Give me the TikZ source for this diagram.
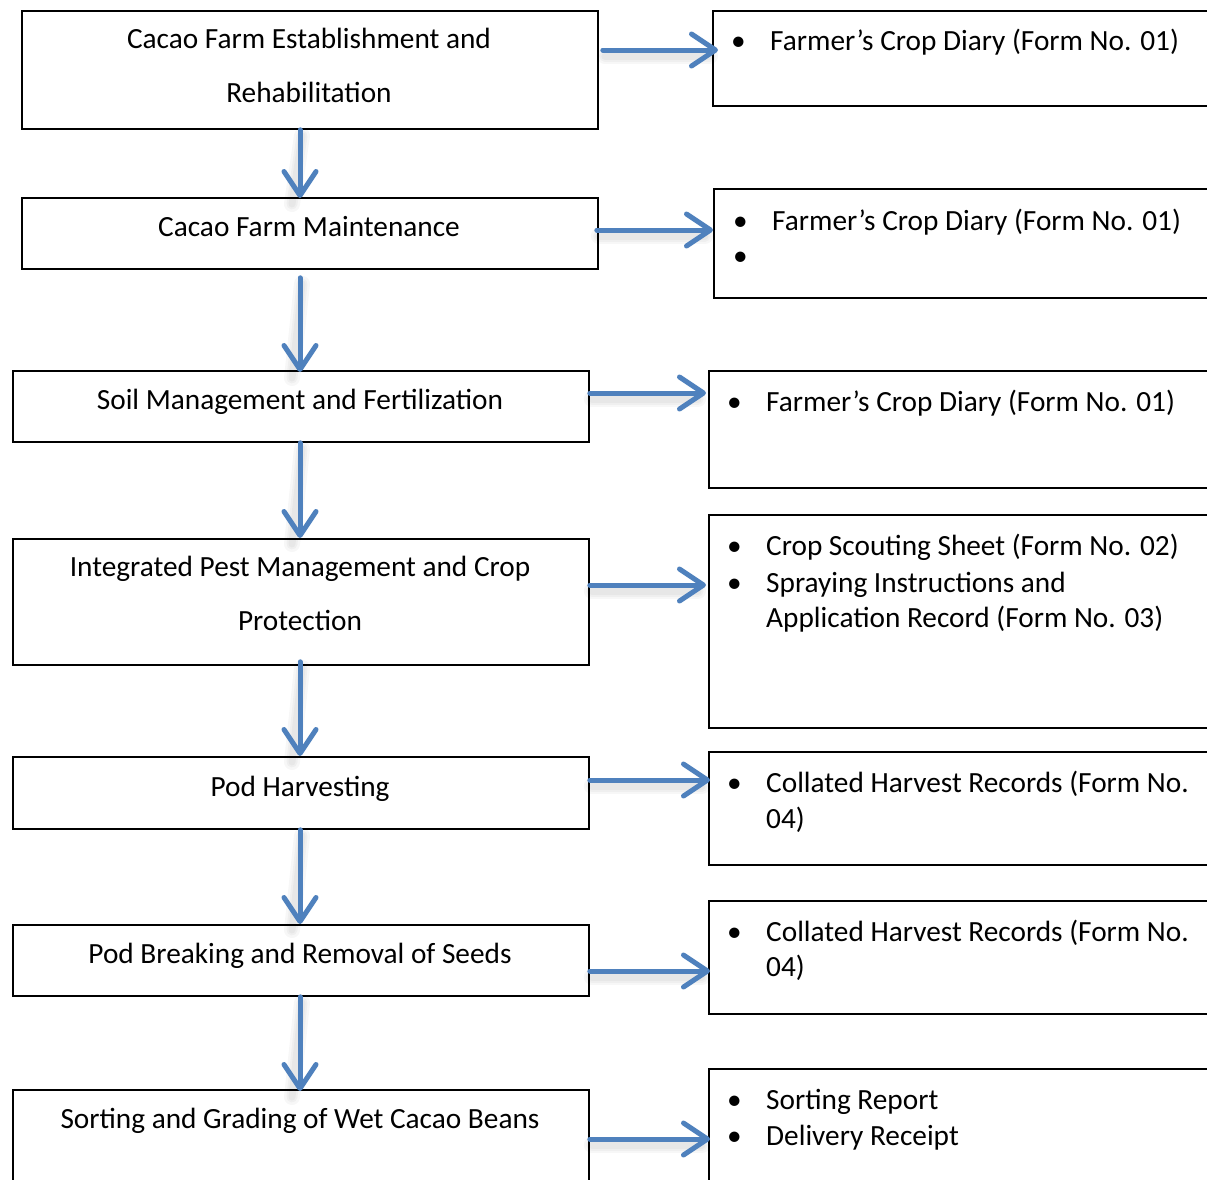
\documentclass[tikz,border=0pt]{standalone}
\usepackage{fontspec}
\setmainfont{Carlito}
\usetikzlibrary{arrows.meta,calc}
\definecolor{flowblue}{HTML}{4F81BD}
\tikzset{
  box/.style={draw=black, line width=1.8pt, inner sep=0pt, anchor=north west, minimum width=576pt},
  docbox/.style={draw=black, line width=1.8pt, inner sep=0pt, anchor=north west, minimum width=600pt},
  lbl/.style={inner sep=0pt, anchor=base, font=\fontsize{29.3}{34}\selectfont},
  itm/.style={inner sep=0pt, anchor=base west, font=\fontsize{29.3}{34}\selectfont},
  arr/.style={draw=flowblue, line width=5pt, line cap=round,
    -{Straight Barb[length=24pt, width=32pt, line cap=round, round]}},
  shade/.style={draw=black, opacity=0.03, line cap=round},
}
% soft drop shadow under each arrow, then the arrow itself
\newcommand{\flowarrow}[2]{%
  \foreach \w in {16,11,7}{%
    \draw[shade, line width=\w pt] ($(#1)+(2,6)$) -- ($(#2)+(-8,6)$);}
  \draw[arr] (#1) -- (#2);}
\begin{document}
\begin{tikzpicture}[x=1pt, y=-1pt]
\clip (0,0) rectangle (1207,1179);
\fill[white] (0,0) rectangle (1207,1179);

% process steps
\node[box, minimum height=118pt] (b1) at (21,10) {};
\node[box, minimum height=71pt]  (b2) at (21,197) {};
\node[box, minimum height=71pt]  (b3) at (12,370) {};
\node[box, minimum height=126pt] (b4) at (12,538) {};
\node[box, minimum height=72pt]  (b5) at (12,756) {};
\node[box, minimum height=71pt]  (b6) at (12,924) {};
\node[box, minimum height=200pt] (b7) at (12,1089) {};

\node[lbl] (t1a) at (309,48)  {Cacao Farm Establishment and};
\node[lbl] (t1b) at (309,102) {Rehabilitation};
\node[lbl] (t2)  at (309,236) {Cacao Farm Maintenance};
\node[lbl] (t3)  at (300,409) {Soil Management and Fertilization};
\node[lbl] (t4a) at (300,576) {Integrated Pest Management and Crop};
\node[lbl] (t4b) at (300,630) {Protection};
\node[lbl] (t5)  at (300,796) {Pod Harvesting};
\node[lbl] (t6)  at (300,963) {Pod Breaking and Removal of Seeds};
\node[lbl] (t7)  at (300,1128) {Sorting and Grading of Wet Cacao Beans};

% records kept at each step
\node[docbox, minimum height=95pt]  (r1) at (712,10) {};
\node[docbox, minimum height=109pt] (r2) at (713,188) {};
\node[docbox, minimum height=117pt] (r3) at (708,370) {};
\node[docbox, minimum height=213pt] (r4) at (708,514) {};
\node[docbox, minimum height=113pt] (r5) at (708,751) {};
\node[docbox, minimum height=113pt] (r6) at (708,900) {};
\node[docbox, minimum height=200pt] (r7) at (708,1068) {};

\node[itm] (d1p) at (731,50) {•};
\node[itm] (d1)  at (770,50) {Farmer’s Crop Diary (Form No. 01)};
\node[itm] (d2p) at (733,230) {•};
\node[itm] (d2)  at (772,230) {Farmer’s Crop Diary (Form No. 01)};
\node[itm] (d2q) at (733,265) {•};
\node[itm] (d3p) at (727,411) {•};
\node[itm] (d3)  at (766,411) {Farmer’s Crop Diary (Form No. 01)};
\node[itm] (d4p) at (727,555) {•};
\node[itm] (d4)  at (766,555) {Crop Scouting Sheet (Form No. 02)};
\node[itm] (d4q) at (727,592) {•};
\node[itm] (d4b) at (766,592) {Spraying Instructions and};
\node[itm] (d4c) at (766,627) {Application Record (Form No. 03)};
\node[itm] (d5p) at (727,792) {•};
\node[itm] (d5)  at (766,792) {Collated Harvest Records (Form No.};
\node[itm] (d5b) at (766,828) {04)};
\node[itm] (d6p) at (727,941) {•};
\node[itm] (d6)  at (766,941) {Collated Harvest Records (Form No.};
\node[itm] (d6b) at (766,976) {04)};
\node[itm] (d7p) at (727,1109) {•};
\node[itm] (d7)  at (766,1109) {Sorting Report};
\node[itm] (d7q) at (727,1145) {•};
\node[itm] (d7b) at (766,1145) {Delivery Receipt};

% arrow end points
\coordinate (h1s) at ($(b1.north east)+(4,40)$);
\coordinate (h1e) at ($(r1.north west)+(6,40)$);
\coordinate (h2s) at ($(b2.north east)+(-2,33)$);
\coordinate (h2e) at ($(r2.north west)+(0,42)$);
\coordinate (h3s) at ($(b3.north east)+(0,23)$);
\coordinate (h3e) at ($(r3.north west)+(-2,23)$);
\coordinate (h4s) at ($(b4.north east)+(0,47)$);
\coordinate (h4e) at ($(r4.north west)+(-2,71)$);
\coordinate (h5s) at ($(b5.north east)+(0,24)$);
\coordinate (h5e) at ($(r5.north west)+(2,29)$);
\coordinate (h6s) at ($(b6.north east)+(0,47)$);
\coordinate (h6e) at ($(r6.north west)+(2,71)$);
\coordinate (h7s) at ($(b7.north east)+(0,50)$);
\coordinate (h7e) at ($(r7.north west)+(2,71)$);

\coordinate (v1s) at ($(b1.south west)+(279,0)$);
\coordinate (v1e) at ($(b2.north west)+(279,1)$);
\coordinate (v2s) at ($(b2.south west)+(279,8)$);
\coordinate (v2e) at ($(b3.north west)+(288,2)$);
\coordinate (v3s) at ($(b3.south west)+(288,0)$);
\coordinate (v3e) at ($(b4.north west)+(288,0)$);
\coordinate (v4s) at ($(b4.south west)+(288,-4)$);
\coordinate (v4e) at ($(b5.north west)+(288,0)$);
\coordinate (v5s) at ($(b5.south west)+(288,0)$);
\coordinate (v5e) at ($(b6.north west)+(288,0)$);
\coordinate (v6s) at ($(b6.south west)+(288,0)$);
\coordinate (v6e) at ($(b7.north west)+(288,2)$);

% flow between steps and to their records
\flowarrow{v1s}{v1e}
\flowarrow{v2s}{v2e}
\flowarrow{v3s}{v3e}
\flowarrow{v4s}{v4e}
\flowarrow{v5s}{v5e}
\flowarrow{v6s}{v6e}
\flowarrow{h1s}{h1e}
\flowarrow{h2s}{h2e}
\flowarrow{h3s}{h3e}
\flowarrow{h4s}{h4e}
\flowarrow{h5s}{h5e}
\flowarrow{h6s}{h6e}
\flowarrow{h7s}{h7e}
\end{tikzpicture}
\end{document}
